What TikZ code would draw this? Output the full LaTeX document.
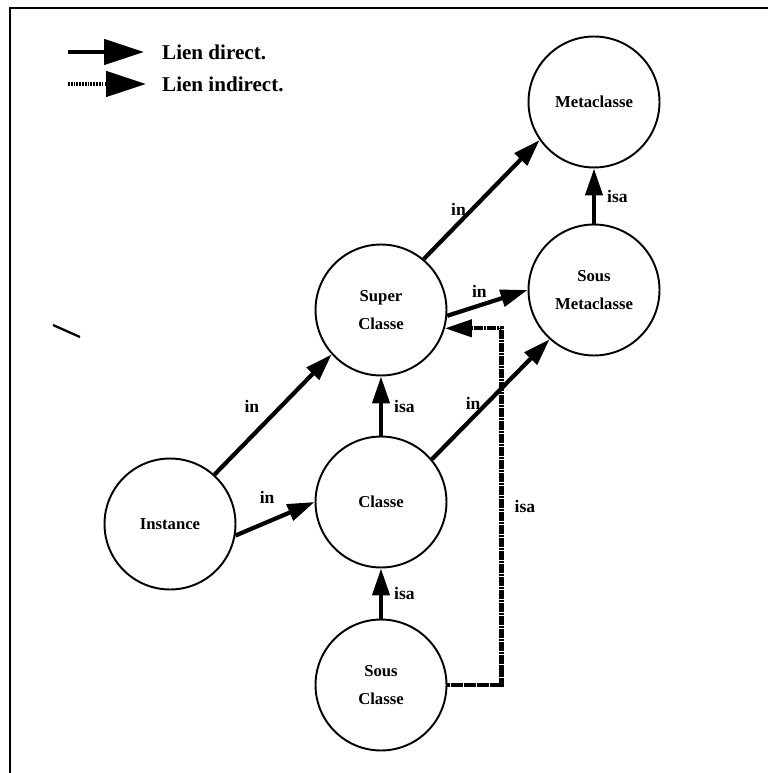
\documentclass[tikz,border=0pt]{standalone}
\usepackage{fontspec}
\setmainfont{Liberation Serif}
\usetikzlibrary{arrows.meta}
\begin{document}
\begin{tikzpicture}[x=0.02cm,y=-0.02cm,align=center,
        concept/.style={draw,circle,line width=1.1pt,minimum size=2.62cm,inner sep=0pt,
            font=\bfseries\fontsize{9.5}{16}\selectfont},
        direct/.style={line width=2.4pt,-{Triangle[length=5.4mm,width=3.4mm]}},
        indirect/.style={direct,dash pattern=on 1.6pt off 0.25pt},
        legdirect/.style={line width=2.6pt,-{Triangle[length=8mm,width=5mm]}},
        legindirect/.style={legdirect,dash pattern=on 1pt off 0.6pt},
        lbl/.style={font=\bfseries\fontsize{10}{12}\selectfont},
        legtext/.style={anchor=west,font=\bfseries\fontsize{12}{14}\selectfont}]
    \useasboundingbox (0,0) rectangle (768,773);
    % frame and stray stroke
    \draw[line width=1.7pt] (10,773) -- (10,8) -- (768,8);
    \draw[line width=1.3pt] (53,325) -- (80,337);
    % legend
    \coordinate(d0) at (68,52);
    \coordinate(d1) at (144,52);
    \node[legtext](ldir) at (156,52) {Lien direct.};
    \coordinate(i0) at (68,84);
    \coordinate(i1) at (146,84);
    \node[legtext](lind) at (156,84) {Lien indirect.};
    \draw[legdirect](d0) -- (d1);
    \draw[legindirect](i0) -- (i1);
    % concepts
    \node[concept](meta) at (594,102) {Metaclasse};
    \node[concept](smeta) at (594,290) {Sous\\Metaclasse};
    \node[concept](super) at (381,310) {Super\\Classe};
    \node[concept](classe) at (381,502) {Classe};
    \node[concept](sclasse) at (381,685) {Sous\\Classe};
    \node[concept](inst) at (170,524) {Instance};
    % links
    \draw[direct](smeta.north) -- node[lbl,right=3pt]{isa} (meta.south);
    \draw[direct](super.50) -- node[lbl,above,pos=0.3]{in} (meta.215);
    \draw[direct](super.-5) -- node[lbl,above,pos=0.4]{in} (smeta.west);
    \draw[direct](classe.40) -- node[lbl,above,pos=0.35]{in} (smeta.228);
    \draw[direct](classe.north) -- node[lbl,right=3pt]{isa} (super.south);
    \draw[direct](sclasse.north) -- node[lbl,right=3pt]{isa} (classe.south);
    \draw[direct](inst.48) -- node[lbl,above left,pos=0.45]{in} (super.222);
    \draw[direct](inst.-10) -- node[lbl,above=6pt,pos=0.4]{in} (classe.west);
    \draw[indirect](sclasse.east) -- ++(54,0) |- node[lbl,right=3pt,pos=0.25]{isa} (super.-16);
\end{tikzpicture}
\end{document}
